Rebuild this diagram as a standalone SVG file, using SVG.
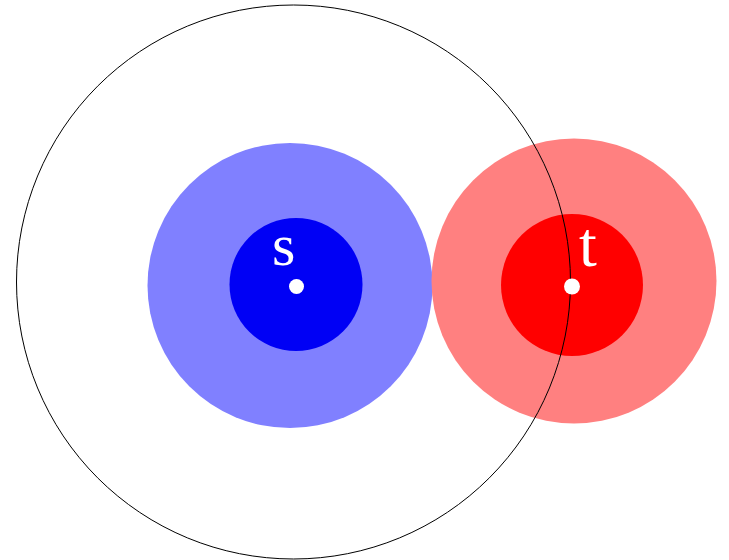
<svg xmlns="http://www.w3.org/2000/svg" width="729" height="560" viewBox="0 0 729 560">
  <style>
    .lbl { font-family: "Liberation Serif", "Times New Roman", serif; fill: #ffffff; }
    .dot { fill: #ffffff; }
  </style>
  <rect x="0" y="0" width="729" height="560" fill="#ffffff"/>
  <g id="node-s">
    <circle cx="290" cy="285.5" r="142.5" fill="#8080ff"/>
    <circle cx="296" cy="284.5" r="66.5" fill="#0000f5"/>
  </g>
  <g id="node-t">
    <circle cx="574" cy="281" r="142.5" fill="#ff8080"/>
    <circle cx="572" cy="285" r="71" fill="#ff0000"/>
  </g>
  <g id="connectors">
    <circle cx="293.5" cy="282" r="277" fill="none" stroke="#000000" stroke-width="1"/>
  </g>
  <g id="labels">
    <circle class="dot" cx="296.5" cy="286.5" r="7.5"/>
    <text class="lbl" x="272" y="265" font-size="60">s</text>
    <circle class="dot" cx="572" cy="286.5" r="8"/>
    <text class="lbl" x="579" y="266" font-size="64">t</text>
  </g>
</svg>
